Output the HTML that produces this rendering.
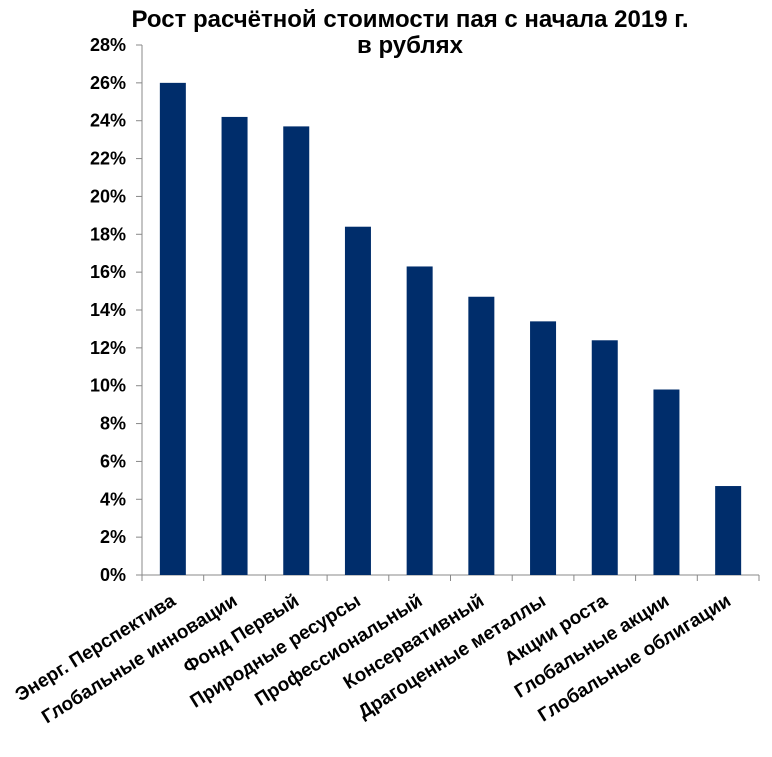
<!DOCTYPE html>
<html><head><meta charset="utf-8"><style>
body{margin:0;background:#fff}
svg{display:block;font-family:"Liberation Sans",Arial,sans-serif}
</style></head><body>
<svg id="c" width="772" height="757">
<text x="410" y="27" text-anchor="middle" font-size="24" font-weight="bold">Рост расчётной стоимости пая с начала 2019 г.</text>
<text x="410" y="53" text-anchor="middle" font-size="24" font-weight="bold">в рублях</text>
</svg>
<script>
const categories=["Энерг. Перспектива","Глобальные инновации","Фонд Первый","Природные ресурсы","Профессиональный","Консервативный","Драгоценные металлы","Акции роста","Глобальные акции","Глобальные облигации"];
const values=[26.0,24.2,23.7,18.4,16.3,14.7,13.4,12.4,9.8,4.7];
const ticks=[0,2,4,6,8,10,12,14,16,18,20,22,24,26,28];
const svg=document.getElementById('c');const NS='http://www.w3.org/2000/svg';
const x0=142,x1=759,y0=575,y1=45,ymax=28;
const band=(x1-x0)/categories.length;
const y=v=>y0-(v/ymax)*(y0-y1);
function mk(t,a,p){const e=document.createElementNS(NS,t);for(const k in a)e.setAttribute(k,a[k]);(p||svg).appendChild(e);return e;}
let ax=mk('line',{x1:x0,y1:y1,x2:x0,y2:y0,stroke:'#888','stroke-width':1});


let bx=mk('line',{x1:x0,y1:y0,x2:x1,y2:y0,stroke:'#888','stroke-width':1});


ticks.forEach(t=>{
 mk('line',{x1:x0-6,y1:y(t),x2:x0,y2:y(t),stroke:'#888'});
 const l=mk('text',{x:126,y:y(t)+6,'text-anchor':'end','font-size':18,'font-weight':'bold'});
 l.textContent=t+'%';
 
 
});
for(let i=0;i<=categories.length;i++){mk('line',{x1:x0+i*band,y1:y0,x2:x0+i*band,y2:y0+6,stroke:'#888'});}
categories.forEach((c,i)=>{
 const cx=x0+band*(i+0.5);
 const b=mk('rect',{x:cx-13,y:y(values[i]),width:26,height:y0-y(values[i]),fill:'#002D6B'});
 
 
 const tx=cx+4,ty=604;
 const l=mk('text',{x:tx,y:ty,'text-anchor':'end','font-size':19,'font-weight':'bold',transform:`rotate(-32 ${tx} ${ty})`});
 l.textContent=c;
 
 
});
</script>
</body></html>
